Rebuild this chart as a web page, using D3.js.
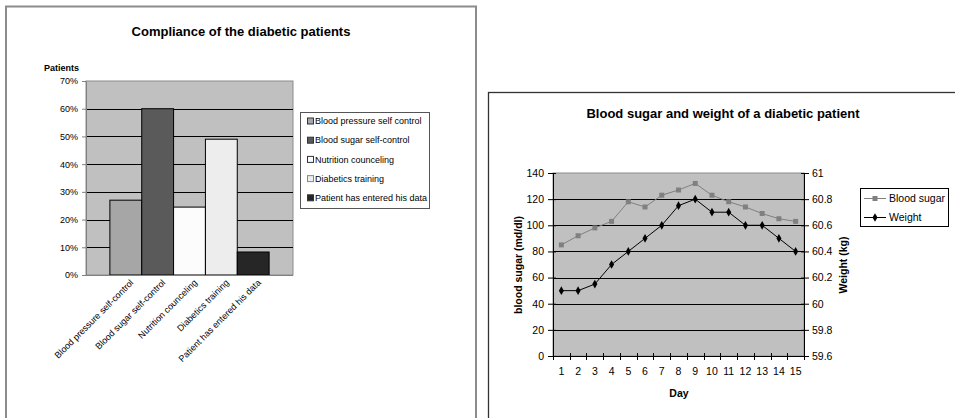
<!DOCTYPE html>
<html><head><meta charset="utf-8">
<script src="https://cdn.jsdelivr.net/npm/d3@7"></script>
<style>body{margin:0;background:#fff}svg{display:block;font-family:"Liberation Sans",Arial,sans-serif}</style>
</head><body>
<svg id="c" width="955" height="418"></svg>
<script>
// ---- data: left chart ----
const complianceCategories = ["Blood pressure self-control","Blood sugar self-control","Nutrition counceling","Diabetics training","Patient has entered his data"];
const complianceLegend = ["Blood pressure self  control","Blood sugar self-control","Nutrition counceling","Diabetics training","Patient has entered his data"];
const complianceValues = [0.27, 0.60, 0.245, 0.49, 0.083];
const complianceTicks = [0,0.1,0.2,0.3,0.4,0.5,0.6,0.7];
// ---- data: right chart ----
const days = [1,2,3,4,5,6,7,8,9,10,11,12,13,14,15];
const bloodSugar = [85,92,98,103,118,114,123,127,132,123,118,114,109,105,103];
const weight = [60.1,60.1,60.15,60.3,60.4,60.5,60.6,60.75,60.8,60.7,60.7,60.6,60.6,60.5,60.4];
const sugarTicks = [0,20,40,60,80,100,120,140];
const weightTicks = [59.6,59.8,60,60.2,60.4,60.6,60.8,61];
const seriesNames = ["Blood sugar","Weight"];

const barColors = ["#a6a6a6","#5a5a5a","#fcfcfc","#ededed","#262626"];
const svg = d3.select("#c");

// ================= LEFT CHART =================
const L = svg.append("g");
L.append("rect").attr("x",6).attr("y",6.5).attr("width",470).attr("height",430)
  .attr("fill","#fff").attr("stroke","#8c8c8c").attr("stroke-width",2);
L.append("text").attr("x",241).attr("y",36).attr("text-anchor","middle")
  .attr("font-size",13).attr("font-weight","bold").text("Compliance of the diabetic patients");
L.append("text").attr("x",44).attr("y",71).attr("font-size",9).attr("font-weight","bold").text("Patients");

const lp = {x0:86, x1:293, y0:81, y1:275};
const xL = d3.scaleBand().domain(complianceCategories).range([lp.x0, lp.x1]).paddingInner(0).paddingOuter(0.75);
const yL = d3.scaleLinear().domain([0,0.7]).range([lp.y1, lp.y0]);

L.append("rect").attr("x",lp.x0).attr("y",lp.y0).attr("width",lp.x1-lp.x0).attr("height",lp.y1-lp.y0)
  .attr("fill","#c0c0c0").attr("stroke","#8c8c8c").attr("stroke-width",1);
L.selectAll(".gl").data(complianceTicks.filter(t=>t>0 && t<0.7)).join("line")
  .attr("x1",lp.x0).attr("x2",lp.x1).attr("y1",d=>Math.round(yL(d))+0.5).attr("y2",d=>Math.round(yL(d))+0.5)
  .attr("stroke","#000").attr("stroke-width",1);
// y axis
const yAxL = L.append("g").attr("transform",`translate(${lp.x0},0)`)
  .call(d3.axisLeft(yL).tickValues(complianceTicks).tickFormat(d3.format(".0%")).tickSize(4).tickPadding(4));
yAxL.select(".domain").attr("stroke","#808080");
yAxL.selectAll(".tick line").attr("stroke","#808080");
yAxL.selectAll("text").attr("font-size",9).attr("font-family","Liberation Sans, Arial").attr("fill","#000");
// bars
L.selectAll(".bar").data(complianceValues).join("rect")
  .attr("x",(d,i)=>xL(complianceCategories[i])).attr("width",xL.bandwidth())
  .attr("y",d=>yL(d)).attr("height",d=>yL(0)-yL(d))
  .attr("fill",(d,i)=>barColors[i]).attr("stroke","#000").attr("stroke-width",1);
L.append("line").attr("x1",lp.x0-4).attr("x2",lp.x1).attr("y1",lp.y1+0.5).attr("y2",lp.y1+0.5).attr("stroke","#808080");
// rotated category labels
L.selectAll(".cl").data(complianceCategories).join("text")
  .attr("transform",d=>`translate(${xL(d)+xL.bandwidth()/2+6},${lp.y1+6}) rotate(-45)`)
  .attr("text-anchor","end").attr("dy","0.35em").attr("font-size",9).text(d=>d);
// legend
const lg = L.append("g");
lg.append("rect").attr("x",300.5).attr("y",112.5).attr("width",129).attr("height",96)
  .attr("fill","#fff").attr("stroke","#555").attr("stroke-width",1);
complianceLegend.forEach((name,i)=>{
  const yy = 121 + i*19.2;
  lg.append("rect").attr("x",307.5).attr("y",yy-3).attr("width",6).attr("height",6)
    .attr("fill",barColors[i]).attr("stroke", i===3 ? "#888" : "#333").attr("stroke-width",1);
  lg.append("text").attr("x",315).attr("y",yy).attr("dy","0.35em").attr("font-size",9).text(name);
});

// ================= RIGHT CHART =================
const R = svg.append("g");
R.append("rect").attr("x",488.5).attr("y",92.5).attr("width",500).attr("height",400)
  .attr("fill","#fff").attr("stroke","#333").attr("stroke-width",1.3);
R.append("text").attr("x",723).attr("y",118).attr("text-anchor","middle")
  .attr("font-size",13).attr("font-weight","bold").text("Blood sugar and weight of a diabetic patient");

const rp = {x0:553, x1:804, y0:173, y1:356};
const xR = d3.scaleBand().domain(days).range([rp.x0, rp.x1]).padding(0);
const yR = d3.scaleLinear().domain([0,140]).range([rp.y1, rp.y0]);
const yW = d3.scaleLinear().domain([59.6,61]).range([rp.y1, rp.y0]);
const cx = d => xR(d) + xR.bandwidth()/2;

R.append("rect").attr("x",rp.x0).attr("y",rp.y0).attr("width",rp.x1-rp.x0).attr("height",rp.y1-rp.y0)
  .attr("fill","#c0c0c0").attr("stroke","#8c8c8c");
R.selectAll(".gr").data(sugarTicks.filter(t=>t>0 && t<140)).join("line")
  .attr("x1",rp.x0).attr("x2",rp.x1).attr("y1",d=>Math.round(yR(d))+0.5).attr("y2",d=>Math.round(yR(d))+0.5)
  .attr("stroke","#000");
// axes
const axL = R.append("g").attr("transform",`translate(${rp.x0},0)`)
  .call(d3.axisLeft(yR).tickValues(sugarTicks).tickSize(5).tickPadding(4));
const axR = R.append("g").attr("transform",`translate(${rp.x1},0)`)
  .call(d3.axisRight(yW).tickValues(weightTicks).tickFormat(d=>d3.format("")(+d.toFixed(1))).tickSize(5).tickPadding(3));
[axL,axR].forEach(a=>{
  a.select(".domain").attr("stroke","#000");
  a.selectAll(".tick line").attr("stroke","#000");
  a.selectAll("text").attr("font-size",10.5).attr("font-family","Liberation Sans, Arial").attr("fill","#000");
});
// cross ticks on y axes (inner part)
axL.selectAll(".tick").append("line").attr("x1",0).attr("x2",3).attr("stroke","#000");
axR.selectAll(".tick").append("line").attr("x1",0).attr("x2",-3).attr("stroke","#000");
// x axis
const axB = R.append("g").attr("transform",`translate(0,${rp.y1})`)
  .call(d3.axisBottom(xR).tickSize(0).tickPadding(12));
axB.select(".domain").attr("stroke","#000").attr("d",`M${rp.x0-5},0.5H${rp.x1+5}`);
axB.selectAll("text").attr("font-size",10.5).attr("font-family","Liberation Sans, Arial").attr("fill","#000");
const bounds = days.map(d=>xR(d)).concat([rp.x1]);
axB.selectAll(".xt").data(bounds).join("line")
  .attr("x1",d=>Math.round(d)+0.5).attr("x2",d=>Math.round(d)+0.5).attr("y1",-3).attr("y2",4).attr("stroke","#000");
// axis titles
R.append("text").attr("x",679).attr("y",397).attr("text-anchor","middle")
  .attr("font-size",10.5).attr("font-weight","bold").text("Day");
R.append("text").attr("transform","translate(522,265) rotate(-90)").attr("text-anchor","middle")
  .attr("font-size",10.5).attr("font-weight","bold").text("blood sugar (md/dl)");
R.append("text").attr("transform","translate(847,265) rotate(-90)").attr("text-anchor","middle")
  .attr("font-size",10.5).attr("font-weight","bold").text("Weight (kg)");
// lines
const sugarLine = d3.line().x((d,i)=>cx(days[i])).y(d=>yR(d));
const weightLine = d3.line().x((d,i)=>cx(days[i])).y(d=>yW(d));
R.append("path").attr("d",sugarLine(bloodSugar)).attr("fill","none").attr("stroke","#808080").attr("stroke-width",1);
R.selectAll(".sm").data(bloodSugar).join("rect")
  .attr("x",(d,i)=>cx(days[i])-2.5).attr("y",d=>yR(d)-2.5).attr("width",5).attr("height",5).attr("fill","#808080");
R.append("path").attr("d",weightLine(weight)).attr("fill","none").attr("stroke","#000").attr("stroke-width",1);
const diamond = d3.symbol().type(d3.symbolDiamond).size(22);
R.selectAll(".wm").data(weight).join("path")
  .attr("transform",(d,i)=>`translate(${cx(days[i])},${yW(d)})`).attr("d",diamond()).attr("fill","#000");
// legend
const rl = R.append("g");
rl.append("rect").attr("x",860.5).attr("y",188.5).attr("width",88).attr("height",38)
  .attr("fill","#fff").attr("stroke","#000");
[0,1].forEach(i=>{
  const yy = 198 + i*19;
  rl.append("line").attr("x1",864).attr("x2",886).attr("y1",yy+0.5).attr("y2",yy+0.5)
    .attr("stroke", i===0 ? "#808080" : "#000");
  if(i===0) rl.append("rect").attr("x",872.5).attr("y",yy-2).attr("width",5).attr("height",5).attr("fill","#808080");
  else rl.append("path").attr("transform",`translate(875,${yy+0.5})`).attr("d",diamond()).attr("fill","#000");
  rl.append("text").attr("x",889).attr("y",yy).attr("dy","0.35em").attr("font-size",10.5).text(seriesNames[i]);
});
</script>
</body></html>
